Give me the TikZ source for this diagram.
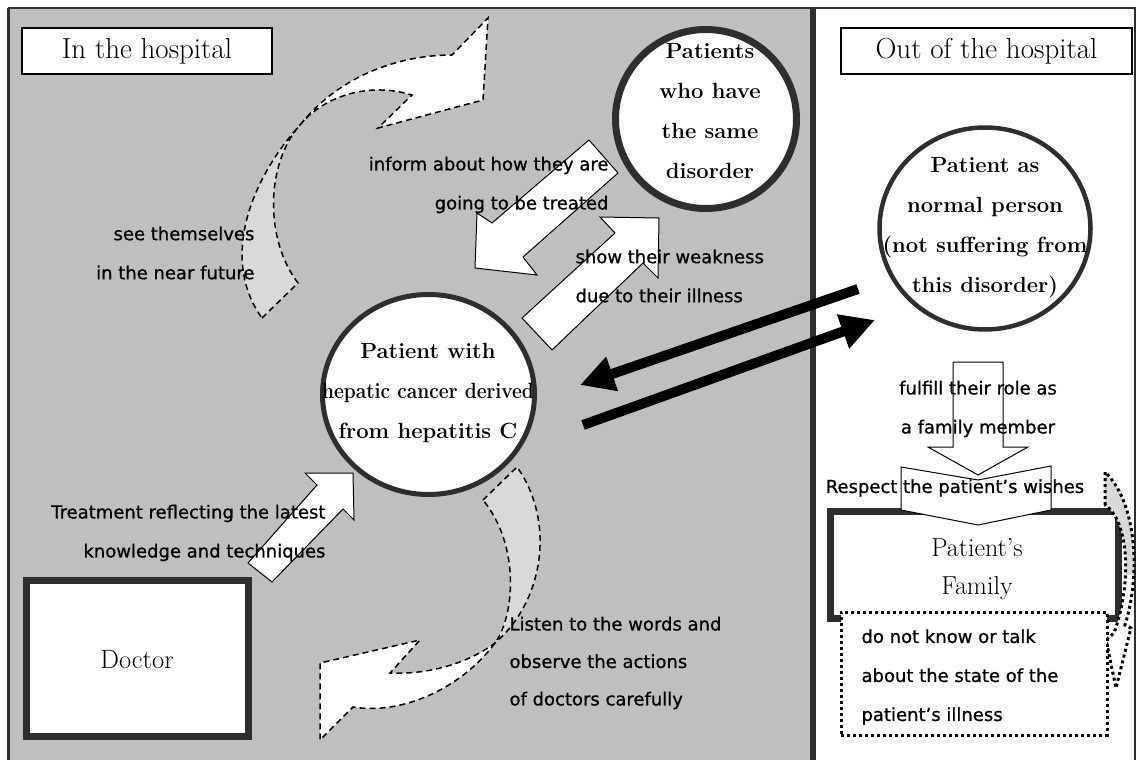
\documentclass[tikz,border=0pt]{standalone}
\usepackage{fontspec}
\usepackage{graphicx}
\setsansfont{DejaVu Sans}[FakeBold=0.9]
\usetikzlibrary{arrows.meta,shapes.geometric}
\definecolor{wardgray}{HTML}{BFBFBF}
\definecolor{tailgray}{HTML}{D9D9D9}
\definecolor{rim}{HTML}{2E2E2E}
\tikzset{%
    heading/.style={draw=black, line width=1.2pt, fill=white,
        minimum height=46pt, inner sep=0pt, font=\fontsize{29}{32}\selectfont},
    bubble/.style={ellipse, draw=rim, fill=white, inner sep=0pt},
    bubbletext/.style={align=center, font=\fontsize{22}{40}\selectfont\bfseries},
    frame/.style={draw=rim, fill=white, line width=7pt},
    note/.style={font=\sffamily\fontsize{18}{39}\selectfont},
    blockarrow/.style={draw=black, line width=1pt, fill=white, line join=miter},
    swirl/.style={draw=black, line width=1.5pt, dash pattern=on 6pt off 4pt},
    dotline/.style={draw=black, line width=3pt, dash pattern=on 3pt off 3pt},
    bigarrow/.style={line width=10pt, -{Triangle[length=34pt,width=34pt]}}
}

\begin{document}
\begin{tikzpicture}[x=1pt, y=-1pt]
\useasboundingbox (0,0) rectangle (1138,760);

% the two settings
\fill[wardgray] (8,8) rectangle (813,765);
\draw[rim, line width=3pt] (8,765) -- (8,8);
\draw[rim, line width=1.5pt] (8,8) -- (1135,8) -- (1135,765);
\draw[rim, line width=5.5pt] (813,8) -- (813,765);

\node[heading, minimum width=250pt] (inside) at (147,51) {In the hospital};
\node[heading, minimum width=291pt] (outside) at (986.5,51) {Out of the hospital};

% curved dashed arrows
\filldraw[swirl, fill=white,
    path picture={\fill[tailgray] (0,125) rectangle (820,400);}]
    (262,318) -- (298,283) .. controls (265,240) and (265,165) .. (300,125)
    .. controls (340,75) and (400,55) .. (452,55) -- (488,18) -- (483,100)
    -- (378,128) -- (412,95) .. controls (370,82) and (325,95) .. (300,125)
    .. controls (250,180) and (220,260) .. (262,318) -- cycle;
\filldraw[swirl, fill=white,
    path picture={\fill[tailgray] (300,400) rectangle (600,641);}]
    (483,500) -- (517,467) .. controls (555,520) and (545,600) .. (495,643)
    .. controls (470,662) and (430,675) .. (390,673) -- (420,640) -- (320,663)
    -- (320,740) -- (353,707) .. controls (400,715) and (460,690) .. (495,643)
    .. controls (515,615) and (520,545) .. (483,500) -- cycle;

% circles and boxes
\node[bubble, line width=7pt, minimum width=181pt, minimum height=179pt] (peers) at (706,119) {};
\node[bubble, line width=4.5pt, minimum width=211pt, minimum height=202pt] (normal) at (985,228.5) {};
\node[bubble, line width=5pt, minimum width=212pt, minimum height=200pt] (patient) at (428.5,394.5) {};
\node[frame, minimum width=222pt, minimum height=156pt] (doctor) at (137.5,658.5) {};
\node[frame, minimum width=288pt, minimum height=107pt] (family) at (974,564.5) {};

\node[bubbletext] (peers-text) at (710,111) {Patients\\who have\\the same\\disorder};
\node[bubbletext] (normal-text) at (985,228) {Patient as\\normal person\\(not suffering from\\this disorder)};
\node[bubbletext] (patient-text) at (428,393) {Patient with\\\scalebox{0.87}[1]{hepatic cancer derived}\\from hepatitis C};
\node[font=\fontsize{26.5}{30}\selectfont] (doctor-text) at (137,660) {Doctor};

% block arrows
\filldraw[blockarrow] (589,140) -- (618,173) -- (523,257) -- (537,275) -- (475,268)
    -- (477,213) -- (492,223) -- cycle;
\filldraw[blockarrow] (522,318) -- (552,350) -- (643,263) -- (658,278) -- (659,218)
    -- (600,217) -- (615,233) -- cycle;
\filldraw[blockarrow] (248,563) -- (272,582) -- (343,509) -- (354,520) -- (353,473)
    -- (305,473) -- (317,485) -- cycle;
\filldraw[blockarrow] (953,362) -- (1003,362) -- (1003,447) -- (1028,447) -- (978,475)
    -- (928,447) -- (953,447) -- cycle;
\filldraw[blockarrow] (901,467) -- (978,480) -- (1051,466) -- (1051,510) -- (978,525)
    -- (901,510) -- cycle;

% back and forth between the hospital and home
\coordinate (leave) at (583,425);
\coordinate (come) at (858,289);
\draw[bigarrow] (leave) -- (875,320) coordinate (home);
\draw[bigarrow] (come) -- (580,385) coordinate (ward);

% the family
\node[font=\fontsize{26}{38}\selectfont, align=center] (family-text) at (977,569) {Patient’s\\Family};
\filldraw[dotline, fill=white, path picture={\fill[tailgray] (1090,460) rectangle (1140,575);}]
    (1105,505) -- (1105,472) .. controls (1135,500) and (1142,570) .. (1125,625)
    -- (1131,628) -- (1116,688) -- (1106,640) -- (1114,633)
    .. controls (1133,580) and (1128,520) .. (1105,505) -- cycle;
\node[dotline, fill=white, minimum width=266pt, minimum height=123pt] (silence) at (974,673.5) {};

% labels
\node[note, align=right, anchor=east] (inform) at (612,185) {inform about how they are\\going to be treated};
\node[note, align=right, anchor=east] (future) at (258,253) {see themselves\\in the near future};
\node[note, align=left, anchor=west] (weak) at (572,276) {show their weakness\\due to their illness};
\node[note, align=right, anchor=east] (treat) at (329,533) {Treatment reflecting the latest\\knowledge and techniques};
\node[note, align=left, anchor=west, font=\sffamily\fontsize{18}{37.5}\selectfont] (listen) at (506,663) {Listen to the words and\\observe the actions\\of doctors carefully};
\node[note, align=center] (role) at (978,409) {fulfill their role as\\a family member};
\node[note] (wishes) at (955,488) {Respect the patient’s wishes};
\node[note, align=left, anchor=west] (silence-text) at (858,677) {do not know or talk\\about the state of the\\patient’s illness};
\end{tikzpicture}
\end{document}
